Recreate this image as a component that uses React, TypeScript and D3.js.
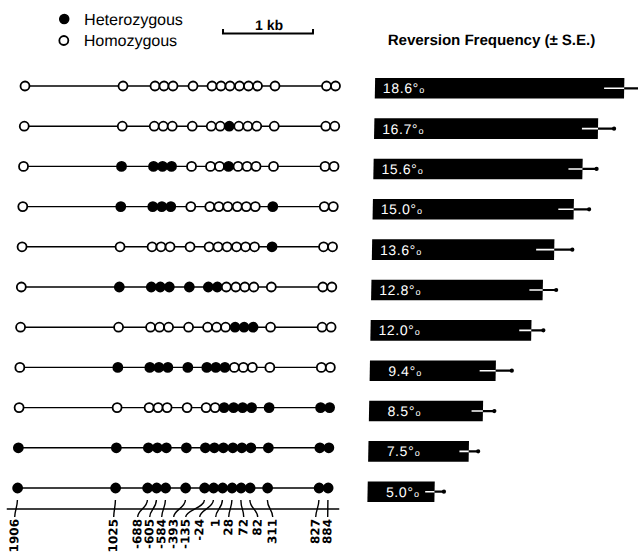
import React from 'react';
import * as d3 from 'd3';

// ---- data ----
const sites = ['1906', '1025', '-688', '-605', '-584', '-393', '-135', '-24', '1', '28', '72', '82', '311', '827', '884'];
// schematic map position of each site circle (map units)
const siteMap = [0, 98, 130, 139, 148, 168, 187, 196, 205, 214.5, 223.5, 232.5, 250, 301.5, 310.5];
// map position of each rotated axis label
const labelMap = [-2.4, 96.6, 120.6, 132.6, 144.6, 156.6, 168.6, 182.6, 198.6, 211.6, 226.6, 240.6, 255.6, 298.6, 310.6];
// genotype per row: H = heterozygous, o = homozygous
const genotypes = [
  'ooooooooooooooo',
  'ooooooooHoooooo',
  'oHHHHoooHoooooo',
  'oHHHHoooooooHoo',
  'ooooooooooooHoo',
  'oHHHHHHHooooooo',
  'oooooooooHHHooo',
  'oHHHHHHHHoooooo',
  'ooooooooHHHHHHH',
  'HHHHHHHHHHHHHHH',
  'HHHHHHHHHHHHHHH',
];
const freq = [18.6, 16.7, 15.6, 15.0, 13.6, 12.8, 12.0, 9.4, 8.5, 7.5, 5.0];
const se = [1.5, 1.2, 1.05, 1.15, 1.35, 1.0, 0.9, 1.2, 0.85, 0.7, 0.7];
const legendItems = ['Heterozygous', 'Homozygous'];
const scaleBarLabel = '1 kb';
const title = 'Reversion Frequency (\u00b1 S.E.)';

export default function App() {
  const W = 638, H = 555;
  const rowIdx = d3.range(genotypes.length);
  const mapX = d3.scaleLinear().domain([0, 310.5]).range([25, 335.5]);
  const rowY = d3.scalePoint<number>().domain(rowIdx).range([86, 488]);
  const barY = d3.scaleBand<number>().domain(rowIdx).range([78, 502]).paddingInner(0.49).paddingOuter(0);
  const fx = d3.scaleLinear().domain([0, 20]).range([375, 643]);
  const axisY = 509;
  const axisExtent = [-10.5, 322];
  const r = 4.5;
  const font = 'Liberation Sans, Arial, Helvetica, sans-serif';

  return (
    <svg width={W} height={H} style={{ position: 'absolute', left: 0, top: 0, background: '#fff' }}>
      <rect width={W} height={H} fill="#fff" />
      <g transform="translate(0,86) skewX(-1.05) translate(0,-86)">
        {/* legend */}
        <circle cx={63} cy={19} r={r} fill="#000" stroke="#000" strokeWidth={1.5} />
        <circle cx={63} cy={40.5} r={r} fill="#fff" stroke="#000" strokeWidth={1.8} />
        <text x={83} y={25} fontFamily={font} fontSize={16} fill="#000">{legendItems[0]}</text>
        <text x={83} y={46} fontFamily={font} fontSize={16} fill="#000">{legendItems[1]}</text>
        {/* scale bar */}
        <path d="M222,29 V33.5 H312 V29" fill="none" stroke="#000" strokeWidth={2} />
        <text x={268} y={30} textAnchor="middle" fontFamily={font} fontWeight="bold" fontSize={14}>{scaleBarLabel}</text>
        {/* title */}
        <text x={387} y={45.5} fontFamily={font} fontWeight="bold" fontSize={15}>{title}</text>

        {/* haplotype rows */}
        {genotypes.map((g, i) => (
          <g key={i}>
            <line x1={mapX(siteMap[0])} x2={mapX(siteMap[siteMap.length - 1])} y1={rowY(i)} y2={rowY(i)} stroke="#000" strokeWidth={1.4} />
            {siteMap.map((m, j) => (
              <circle key={j} cx={mapX(m)} cy={rowY(i)} r={r}
                fill={g[j] === 'H' ? '#000' : '#fff'} stroke="#000" strokeWidth={1.8} />
            ))}
          </g>
        ))}

        {/* map axis */}
        <line x1={mapX(axisExtent[0])} x2={mapX(axisExtent[1])} y1={axisY} y2={axisY} stroke="#000" strokeWidth={1.7} />
        {sites.map((s, j) => {
          const sx = mapX(siteMap[j]);
          const lx = mapX(labelMap[j]);
          return (
            <g key={s}>
              <path d={`M${sx},${axisY - 9} C${sx},${axisY - 1} ${lx},${axisY + 1} ${lx},${axisY + 8}`}
                fill="none" stroke="#000" strokeWidth={1.4} />
              <text transform={`translate(${lx},${axisY + 10}) rotate(-90)`} textAnchor="end" dominantBaseline="central"
                fontFamily="DejaVu Sans, sans-serif" fontWeight="bold" fontSize={12}>{s}</text>
            </g>
          );
        })}

        {/* bars */}
        {freq.map((v, i) => {
          const y0 = barY(i)!;
          const bh = barY.bandwidth();
          const cy = y0 + bh / 2;
          const x1 = fx(v);
          const e = fx(v) - fx(v - se[i]);
          return (
            <g key={i}>
              <rect x={fx(0)} y={y0} width={x1 - fx(0)} height={bh} fill="#000" />
              <line x1={x1 - e} x2={x1} y1={cy} y2={cy} stroke="#fff" strokeWidth={1.6} />
              <line x1={x1} x2={x1 + e} y1={cy} y2={cy} stroke="#000" strokeWidth={2.2} />
              <circle cx={x1 + e} cy={cy} r={2.1} fill="#000" />
              <text x={fx(0) + (v < 10 ? 18.5 : 8)} y={cy + 5} fill="#fff" fontFamily={font} fontSize={14} letterSpacing={0.6}>
                {v.toFixed(1)}°<tspan fontSize={9} dx={0.5}>o</tspan>
              </text>
            </g>
          );
        })}
      </g>
    </svg>
  );
}
